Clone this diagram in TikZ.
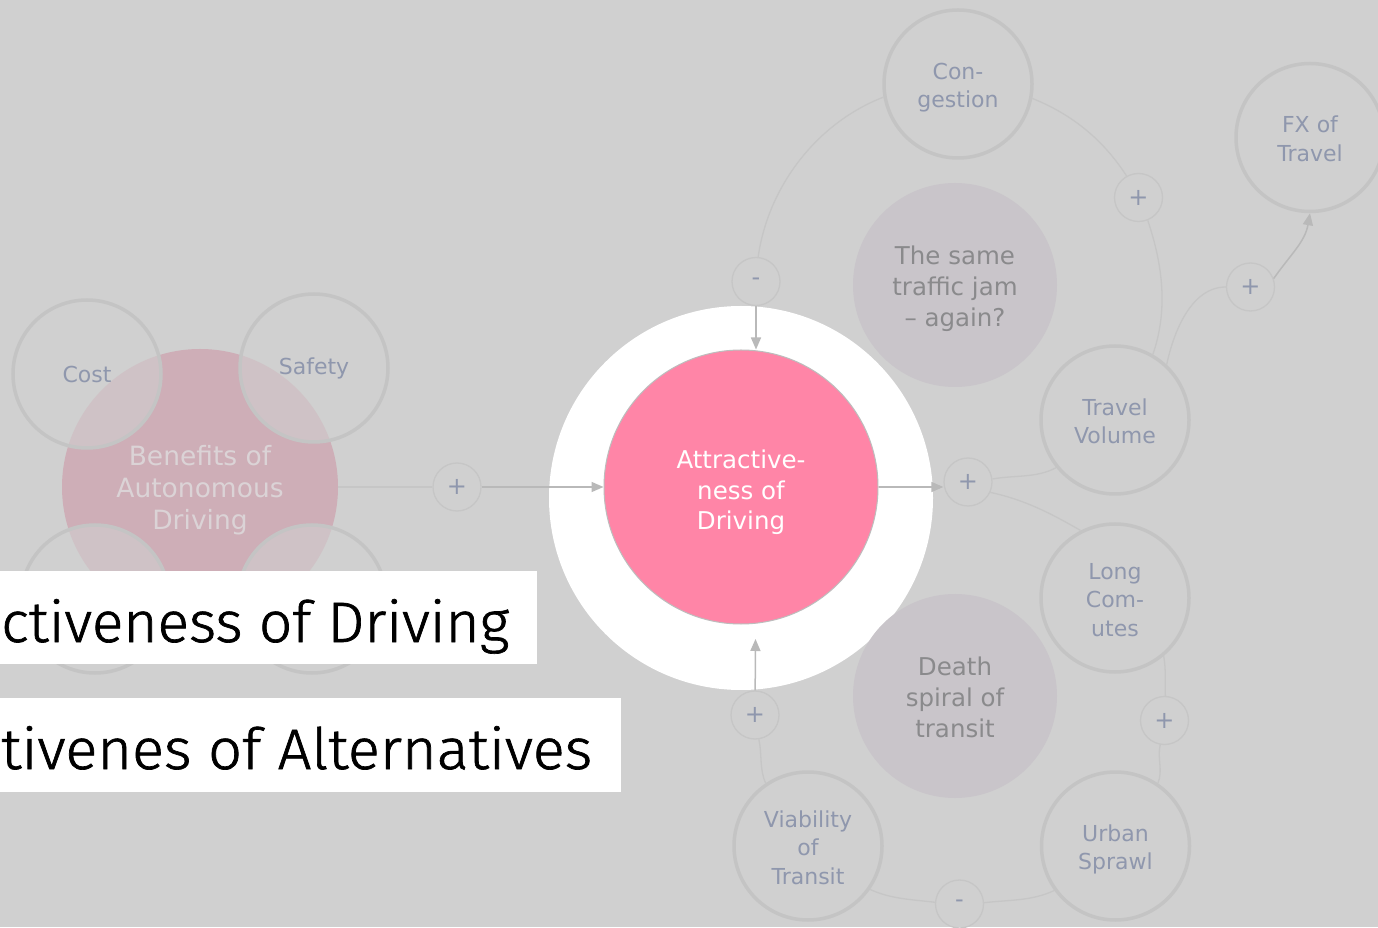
\documentclass[tikz,border=0pt]{standalone}
\usepackage{graphicx}
\usepackage{fontspec}
\setmainfont{DejaVu Sans}
\newfontfamily\titlefont{Fira Sans}[UprightFont={* Light}, FakeBold=1.2]
\usetikzlibrary{arrows.meta}
\definecolor{bgc}{HTML}{D0D0D0}
\definecolor{nodeline}{HTML}{C4C4C4}
\definecolor{labelc}{HTML}{8F97AD}
\definecolor{polline}{HTML}{C6C6C6}
\definecolor{linec}{HTML}{C6C6C6}
\definecolor{arrline}{HTML}{B9B9B9}
\definecolor{pinkc}{HTML}{FF85A7}
\definecolor{pinkline}{HTML}{BDBDBD}
\definecolor{benfill}{HTML}{CEAEB7}
\definecolor{bentext}{HTML}{DBD3D6}
\definecolor{loopfill}{HTML}{C9C5CA}
\definecolor{looptext}{HTML}{8A8A8C}
\tikzset{
  vcent/.style 2 args={execute at begin node={\rule{0pt}{#1}},
    execute at end node={\rule[-#2]{0pt}{0pt}}},
  outer/.style={circle, draw=nodeline, line width=3.5pt, minimum size=148pt, inner sep=0pt,
    text=labelc, align=center, font=\fontsize{22}{28.5}\selectfont},
  two/.style={vcent={54pt}{6.2pt}},
  three/.style={vcent={82.5pt}{6.2pt}},
  leftsub/.style={outer, fill=bgc, fill opacity=0.6, text opacity=1},
  pol/.style={circle, draw=polline, line width=1.3pt, minimum size=48pt, inner sep=0pt,
    text=labelc, font=\fontsize{24}{24}\selectfont},
  loopnote/.style={circle, fill=loopfill, minimum size=204pt, inner sep=0pt,
    text=looptext, align=center, font=\fontsize{24.5}{31}\selectfont, vcent={90pt}{7pt}},
  conn/.style={draw=linec, line width=1.3pt, looseness=0.9},
  arr/.style={draw=arrline, line width=1.5pt, -{Triangle[length=12pt,width=10pt]}},
  titlebox/.style={fill=white, inner sep=0pt, anchor=south west},
  titletext/.style={inner sep=0pt, anchor=base west, text=black}
}
\begin{document}
\begin{tikzpicture}[x=1pt,y=1pt]
\useasboundingbox (0,0) rectangle (1378,927);
\fill[bgc] (0,0) rectangle (1378,927);

% central ring and focus
\node[circle, fill=white, minimum size=384pt, inner sep=0pt] (ring) at (741,429) {};

% left cluster
\node[circle, fill=benfill, minimum size=276pt, inner sep=0pt, text=bentext, align=center,
  font=\fontsize{26.5}{32}\selectfont, vcent={94pt}{8pt}] (benefits) at (200,440)
  {Benefits of\\Autonomous\\Driving};
\node[leftsub] (cost) at (87,553) {Cost};
\node[leftsub] (safety) at (314,559) {Safety};
\node[leftsub] (bl1) at (95,328) {};
\node[leftsub] (bl2) at (312,328) {};

\node[circle, fill=pinkc, draw=pinkline, line width=1pt, minimum size=274pt, inner sep=0pt,
  text=white, align=center, font=\fontsize{24.5}{30.5}\selectfont, vcent={93pt}{7pt}]
  (pink) at (741,440) {Attractive-\\ness of\\Driving};

% loop notes
\node[loopnote] (jam) at (955,642) {The same\\traffic jam\\– again?};
\node[loopnote] (death) at (955,231) {Death\\spiral of\\transit};

% outer variables
\node[outer, two] (cong) at (958,843) {Con-\\gestion};
\node[outer, two] (fx) at (1310,789.5) {FX of\\Travel};
\node[outer, two] (tv) at (1115,507) {Travel\\Volume};
\node[outer, three] (lc) at (1115,329) {Long\\Com-\\utes};
\node[outer, two] (us) at (1115.5,81) {Urban\\Sprawl};
\node[outer, three] (vt) at (808,81) {Viability\\of\\Transit};

% polarity markers
\node[pol] (pm) at (756,645.5) {-};
\node[pol] (pa) at (1138.5,729.5) {+};
\node[pol] (pfx) at (1250.5,640) {+};
\node[pol] (pout) at (968,445) {+};
\node[pol] (pin) at (457,440) {+};
\node[pol] (pvt) at (755,212) {+};
\node[pol] (plc) at (1164.5,206.5) {+};
\node[pol] (pus) at (959.5,23) {-};

\coordinate (tipb) at (755.5,288);

% straight connectors
\draw[conn] (benefits) -- (pin);
\draw[arr] (pin) -- (pink);
\draw[arr] (pink.east) -- (pink.east -| pout.west);
\draw[arr] (pm) -- (pm |- pink.north);
\draw[arr] (pvt) -- (tipb);

% top loop
\draw[conn] (cong.190.5) to[out=201.2, in=81.9] (pm.85.5);
\draw[conn] (tv.60) to[out=71, in=-71.4] (pa.-68);
\draw[conn] (pa.119) to[out=122.8, in=-21.8] (cong.-11);
\draw[conn] (pout.7) to[out=10.3, in=-152] (tv.-141);

% FX branch
\draw[conn] (tv.47) to[out=78, in=180] (pfx.west);
\draw[arr] (pfx.20) to[out=55, in=-100] (fx.south);

% bottom loop
\draw[conn] (pout.-25) to[out=-12, in=150] (lc.117);
\draw[conn] (lc.-50) to[out=-80, in=92] (plc.88);
\draw[conn] (plc.-100.5) to[out=-103.9, in=66.4] (us.56);
\draw[conn] (us.-144.5) to[out=-154.8, in=6.7] (pus.3.3);
\draw[conn] (pus.176.5) to[out=173.1, in=-24.6] (vt.-35);
\draw[conn] (vt.124.5) to[out=114.2, in=-77.6] (pvt.-81);

% title boxes
\node[titlebox, minimum width=537pt, minimum height=93pt] (box1) at (0,263) {};
\node[titlebox, minimum width=621pt, minimum height=94pt] (box2) at (0,135) {};
\node[titletext] (title1) at (1,285)
  {\resizebox{508pt}{\height}{\titlefont\fontsize{57}{57}\selectfont ctiveness of Driving}};
\node[titletext] (title2) at (1,158)
  {\resizebox{591pt}{\height}{\titlefont\fontsize{57}{57}\selectfont tivenes of Alternatives}};
\end{tikzpicture}
\end{document}
